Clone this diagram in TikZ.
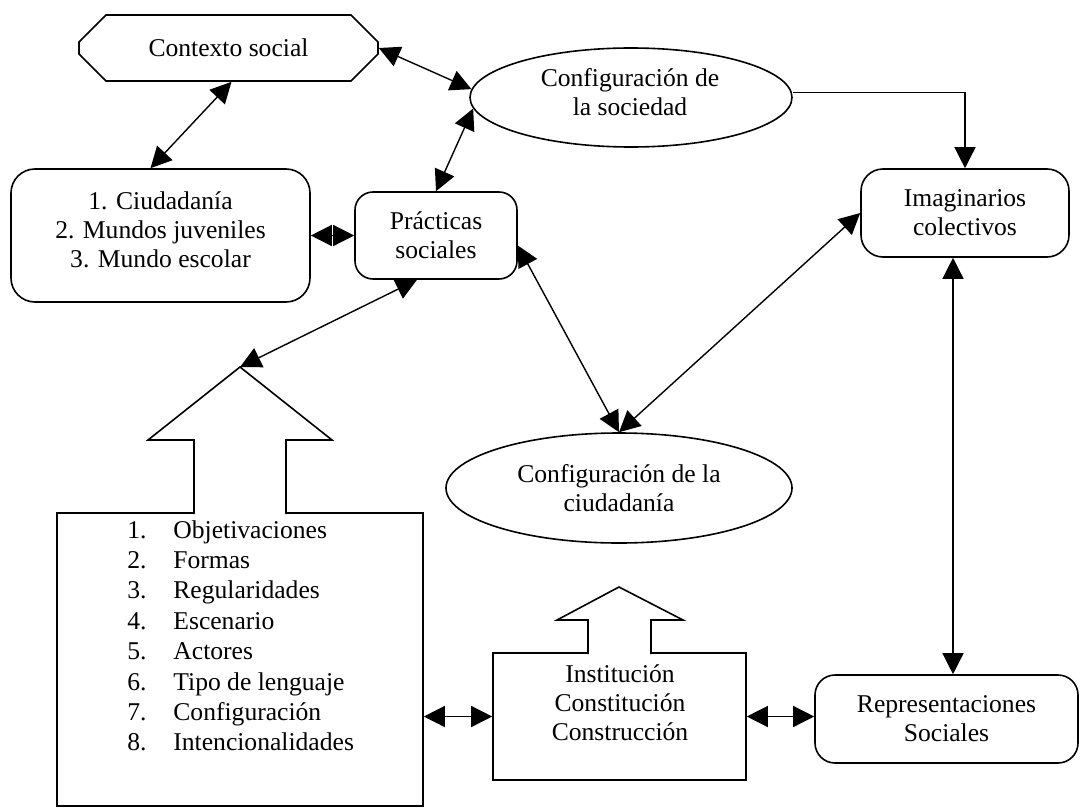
\documentclass[tikz,border=0pt]{standalone}
\usepackage{fontspec}
\setmainfont{Liberation Serif}
\usetikzlibrary{shapes.geometric,shapes.misc,arrows.meta}

\tikzstyle{roundbox}=[draw, rectangle, rounded corners=11pt, line width=0.8pt, align=center]
\tikzstyle{oval}=[draw, ellipse, line width=0.8pt, align=center, inner sep=0pt]
\tikzstyle{plainbox}=[draw, rectangle, line width=0.8pt]
\tikzstyle{link}=[line width=0.7pt, {Triangle[length=10.5pt,width=10.5pt]}-{Triangle[length=10.5pt,width=10.5pt]}]
\tikzstyle{onelink}=[line width=0.7pt, -{Triangle[length=10.5pt,width=10.5pt]}]

\begin{document}
\begin{tikzpicture}[x=0.5pt, y=-0.5pt, font=\fontsize{12.8}{14.5}\selectfont]
      \useasboundingbox (0,0) rectangle (1080,808);

      % upper row
      \node (contexto) at (228.5,48)
            [draw, chamfered rectangle, chamfered rectangle xsep=10pt, chamfered rectangle ysep=9pt,
             line width=0.8pt, minimum width=149.5pt, minimum height=33pt, inner sep=0pt] {Contexto social};
      \node (sociedad) at (631,97.5) [oval, minimum width=161pt, minimum height=49.5pt] {};
      \node (sociedadtext) at (630,92) [align=center] {Configuración de\\la sociedad};
      \node (imaginarios) at (965,213)
            [roundbox, minimum width=104pt, minimum height=44pt] {Imaginarios\\colectivos};
      \node (ciudad) at (160.5,235.5)
            [roundbox, rounded corners=12pt, minimum width=149.5pt, minimum height=66.5pt] {};
      \node (ciudadtext) at (160.5,230) [align=center] {1. Ciudadanía\\2. Mundos juveniles\\3. Mundo escolar};
      \node (practicas) at (436,235.5)
            [roundbox, rounded corners=9pt, minimum width=81pt, minimum height=43.5pt] {Prácticas\\sociales};
      \node (ciudadania) at (619,488)
            [oval, minimum width=173pt, minimum height=55pt] {Configuración de la\\ciudadanía};

      % lower row
      \node (objet) at (240,659.5) [plainbox, minimum width=183pt, minimum height=146.5pt] {};
      \path[draw, fill=white, line width=0.8pt] (194,514) -- (194,440) -- (148,440)
            -- (240,367) coordinate (objtip) -- (332,440) -- (286,440) -- (286,514);
      \foreach \n/\txt in {1/Objetivaciones, 2/Formas, 3/Regularidades, 4/Escenario,
                           5/Actores, 6/Tipo de lenguaje, 7/Configuración, 8/Intencionalidades} {
            \node (num\n) at (127, 538+30.4*\n-30.4) [anchor=base west, inner sep=0pt] {\n.};
            \node (item\n) at (173, 538+30.4*\n-30.4) [anchor=base west, inner sep=0pt] {\txt};
      }

      \node (instit) at (619.5,716.5) [plainbox, minimum width=126.5pt, minimum height=63.5pt] {};
      \path[draw, fill=white, line width=0.8pt] (588,654) -- (588,620) -- (557,620)
            -- (619,587) -- (683,620) -- (651,620) -- (651,654);
      \node (institext) at (620,703) [align=center] {Institución\\Constitución\\Construcción};
      \node (represent) at (946.5,719)
            [roundbox, rounded corners=10pt, minimum width=131.5pt, minimum height=44pt] {Representaciones\\Sociales};

      % connectors
      \draw[link] ([xshift=1.5pt]contexto.south) -- ([xshift=-5pt]ciudad.north);
      \draw[link] (contexto.east) -- (sociedad.177);
      \draw[link] (sociedad.184) -- (practicas.north);
      \draw[link] (ciudad.east) -- (practicas.west);
      \draw[onelink] ([yshift=2.5pt]sociedad.east) -| (imaginarios.north);
      \draw[link] ([xshift=-9.5pt]practicas.south) -- (objtip);
      \draw[link] ([yshift=-5pt]practicas.east) -- (ciudadania.north);
      \draw[link] (imaginarios.west) -- (ciudadania.north);
      \draw[link] ([xshift=-6pt]imaginarios.south) -- ([xshift=-6pt]imaginarios.south |- represent.north);
      \draw[link] (instit.west -| objet.east) -- (instit.west);
      \draw[link] (instit.east) -- (instit.east -| represent.west);
    \end{tikzpicture}
\end{document}
